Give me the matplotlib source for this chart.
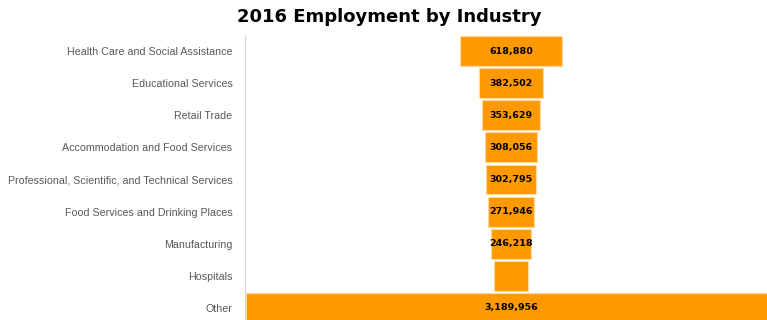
import numpy as np
import matplotlib
matplotlib.use("Agg")
import matplotlib.pyplot as plt

# datos del grafico
industrias = ["Health Care and Social Assistance", "Educational Services", "Retail Trade",
              "Accommodation and Food Services", "Professional, Scientific, and Technical Services",
              "Food Services and Drinking Places", "Manufacturing", "Hospitals", "Other"]
empleo = [618880, 382502, 353629, 308056, 302795, 271946, 246218, 200000, 3189956]
etiquetas = ["618,880", "382,502", "353,629", "308,056", "302,795", "271,946", "246,218", "", "3,189,956"]

naranja = "#FF9900"

fig = plt.figure(figsize=(7.67, 3.2), dpi=100)
ax = fig.add_axes([245 / 767, -4 / 320, 532 / 767, 289 / 320])

y = np.arange(len(industrias))
valores = np.array(empleo, dtype=float)
ax.barh(y, valores, left=-valores / 2, height=0.93, color=naranja,
        edgecolor="#FFD9A0", linewidth=0.8)

for yi, txt in zip(y, etiquetas):
    if txt:
        ax.text(0, yi, txt, ha="center", va="center", fontsize=6.8,
                fontweight="bold", color="black", family="DejaVu Sans")

ax.set_xlim(-1.6e6, 1.6e6)
ax.set_ylim(len(industrias) - 0.5, -0.5)
ax.set_yticks(y)
ax.set_yticklabels(industrias, fontsize=7.7, color="#595959", family="Liberation Sans")
ax.set_xticks([])
ax.tick_params(axis="y", length=0, pad=9)
for lado in ["top", "right", "bottom"]:
    ax.spines[lado].set_visible(False)
ax.spines["left"].set_color("#D9D9D9")

fig.text(389 / 767, 1 - 17 / 320, "2016 Employment by Industry", ha="center", va="center",
         fontsize=13, fontweight="bold", color="black", family="DejaVu Sans")

fig.savefig("out.png", dpi=100)
